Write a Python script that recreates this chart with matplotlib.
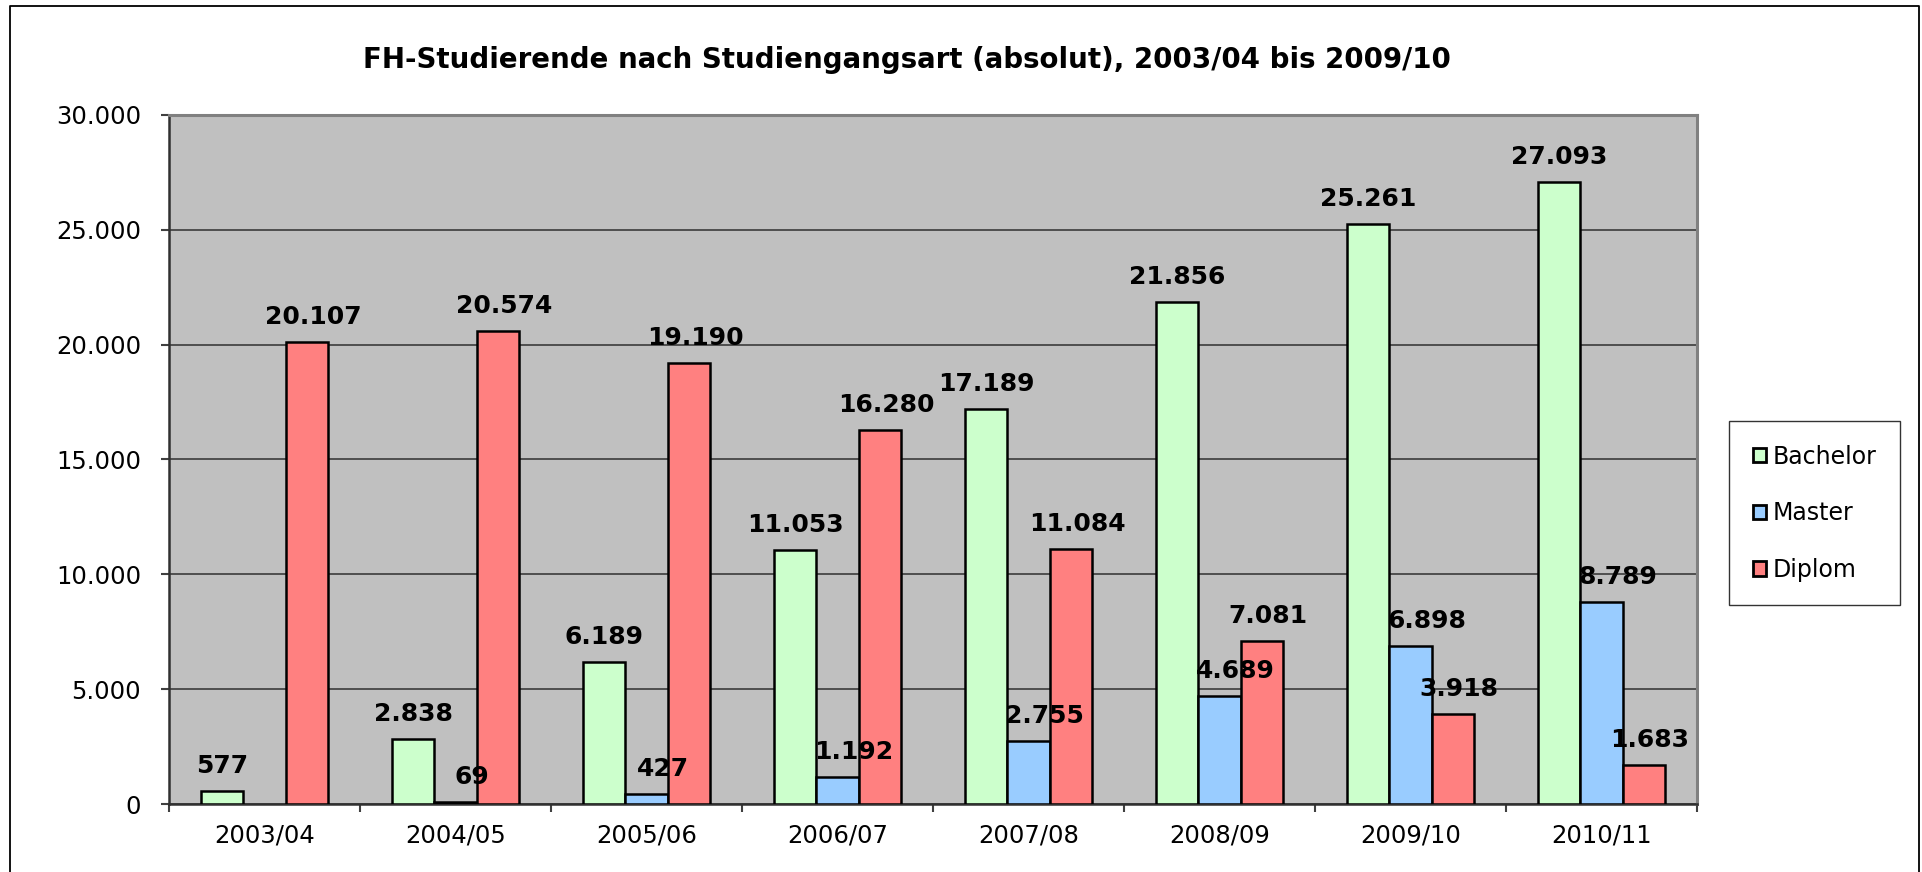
import numpy as np
import matplotlib
matplotlib.use('Agg')
import matplotlib.pyplot as plt
from matplotlib.lines import Line2D

# ---------------------------------------------------------------------------
# Data
# ---------------------------------------------------------------------------
semesters = ['2003/04', '2004/05', '2005/06', '2006/07',
             '2007/08', '2008/09', '2009/10', '2010/11']
bachelor = [577, 2838, 6189, 11053, 17189, 21856, 25261, 27093]
master = [np.nan, 69, 427, 1192, 2755, 4689, 6898, 8789]
diplom = [20107, 20574, 19190, 16280, 11084, 7081, 3918, 1683]
series_names = ['Bachelor', 'Master', 'Diplom']
y_ticks = [0, 5000, 10000, 15000, 20000, 25000, 30000]
title = 'FH-Studierende nach Studiengangsart (absolut), 2003/04 bis 2009/10'


def de_num(v, pos=None):
    """German thousands separator: 12345 -> 12.345"""
    return f'{v:,.0f}'.replace(',', '.')


def main():
    W, H = 1922, 872
    fig = plt.figure(figsize=(W / 100, H / 100), dpi=100)
    fig.patch.set_facecolor('white')

    ax = fig.add_axes([169 / W, 1 - 804 / H, (1697 - 169) / W, (804 - 115) / H])
    ax.set_facecolor('#C0C0C0')

    x = np.arange(len(semesters))
    bw = 1 / 4.5
    colors = ['#CCFFCC', '#99CCFF', '#FF8080']
    label_dx = [0, 16, 6]   # px shift of value labels per series

    for i, (name, vals, col) in enumerate(zip(series_names,
                                              [bachelor, master, diplom],
                                              colors)):
        xs = x + (i - 1) * bw
        ax.bar(xs, vals, width=bw, color=col, edgecolor='black',
               linewidth=1.8, label=name, zorder=3)
        for xi, v in zip(xs, vals):
            if np.isnan(v):
                continue
            ax.annotate(de_num(v), (xi, v),
                        xytext=(label_dx[i] * 0.72, 13),
                        textcoords='offset points', ha='center',
                        va='baseline', fontsize=18, fontweight='bold',
                        color='black', zorder=5)

    # axes / grid
    ax.set_xlim(-0.5, len(semesters) - 0.5)
    ax.set_ylim(y_ticks[0], y_ticks[-1])
    ax.set_yticks(y_ticks)
    ax.set_yticklabels([de_num(v) for v in y_ticks])
    ax.set_xticks(x)
    ax.set_xticklabels(semesters)
    ax.set_xticks(np.arange(-0.5, len(semesters)), minor=True)
    ax.tick_params(axis='x', which='major', length=0, pad=14, labelsize=17.5)
    ax.tick_params(axis='x', which='minor', length=6, width=1.5,
                   color='#404040', direction='out')
    ax.tick_params(axis='y', length=6, width=1.5, color='#404040',
                   direction='out', pad=14, labelsize=17.5)
    ax.yaxis.grid(True, color='#303030', linewidth=1.1, zorder=1)
    ax.set_axisbelow(True)

    for s in ('left', 'bottom'):
        ax.spines[s].set_color('#303030')
        ax.spines[s].set_linewidth(1.8)
    for s in ('top', 'right'):
        ax.spines[s].set_color('#808080')
        ax.spines[s].set_linewidth(2.2)

    # legend
    leg = ax.legend(loc='upper left', bbox_to_anchor=(1729 / W, 1 - 421 / H),
                    bbox_transform=fig.transFigure, borderaxespad=0,
                    fontsize=17, frameon=True, fancybox=False,
                    edgecolor='black', handlelength=0.55, handleheight=0.55,
                    handletextpad=0.3, labelspacing=1.38, borderpad=1.0)
    leg.get_frame().set_linewidth(1.0)
    for h in leg.legend_handles:
        h.set_linewidth(2.0)

    # title
    fig.text(907 / W, 1 - 60 / H, title, ha='center', va='center',
             fontsize=19.9, fontweight='bold')

    # outer chart frame (left, top, right; cut off at the bottom)
    fx0, fx1, fy1 = 9.5 / W, 1918.5 / W, 1 - 6 / H
    fig.add_artist(Line2D([fx0, fx0, fx1, fx1], [0, fy1, fy1, 0],
                          transform=fig.transFigure, color='black',
                          linewidth=1.3))

    fig.savefig('out.png', dpi=100)
    plt.close(fig)


if __name__ == '__main__':
    main()
